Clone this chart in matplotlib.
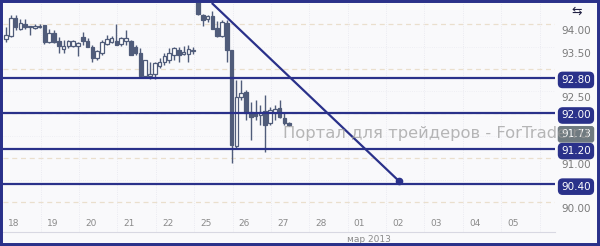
import matplotlib.pyplot as plt
import matplotlib.transforms as mtransforms
from matplotlib.patches import Rectangle
import numpy as np

# 3-hour candles, 8 per trading day (18.02 - 27.02.2013)
opens = [93.67, 93.74, 94.15, 93.90, 94.01, 93.95, 93.92, 93.93, 93.99, 93.61,
         93.81, 93.63, 93.45, 93.52, 93.52, 93.52, 93.72, 93.63, 93.49, 93.25,
         93.36, 93.56, 93.61, 93.63, 93.56, 93.63, 93.63, 93.49, 93.36, 92.84,
         92.84, 92.89, 93.07, 93.16, 93.20, 93.31, 93.43, 93.34, 93.34, 93.40,
         94.60, 94.21, 94.12, 94.19, 93.92, 93.74, 94.03, 93.43, 91.26, 92.37,
         92.48, 92.03, 92.01, 91.96, 92.05, 91.78, 92.01, 92.12, 91.89, 91.78]
highs = [93.94, 94.21, 94.21, 94.12, 94.12, 93.95, 94.01, 94.01, 93.99, 93.90,
         93.88, 93.72, 93.65, 93.65, 93.65, 93.61, 93.83, 93.70, 93.54, 93.43,
         93.65, 93.76, 93.74, 94.01, 93.72, 93.88, 93.65, 93.54, 93.47, 93.20,
         93.16, 93.16, 93.25, 93.36, 93.47, 93.49, 93.49, 93.52, 93.54, 93.49,
         94.65, 94.24, 94.21, 94.30, 94.08, 94.10, 94.10, 93.43, 92.75, 92.75,
         92.52, 92.25, 92.30, 92.19, 92.41, 92.14, 92.19, 92.30, 92.00, 91.80]
lows = [93.61, 93.72, 93.88, 93.88, 93.90, 93.76, 93.90, 93.92, 93.56, 93.58,
        93.58, 93.36, 93.36, 93.47, 93.49, 93.29, 93.54, 93.49, 93.16, 93.20,
        93.31, 93.54, 93.58, 93.54, 93.52, 93.54, 93.31, 93.31, 92.82, 92.80,
        92.77, 92.77, 93.02, 93.09, 93.13, 93.20, 93.16, 93.31, 93.16, 93.34,
        94.21, 93.97, 94.06, 93.90, 93.72, 93.72, 93.16, 90.88, 91.22, 92.30,
        91.85, 91.40, 91.85, 91.74, 91.13, 91.74, 91.85, 91.89, 91.74, 91.71]
closes = [93.76, 94.15, 93.94, 94.03, 93.94, 93.94, 93.97, 93.97, 93.61, 93.81,
          93.61, 93.52, 93.52, 93.63, 93.63, 93.58, 93.63, 93.49, 93.25, 93.40,
          93.61, 93.67, 93.70, 93.54, 93.70, 93.70, 93.31, 93.36, 92.84, 93.20,
          92.89, 93.13, 93.16, 93.29, 93.36, 93.47, 93.31, 93.38, 93.45, 93.40,
          94.24, 94.10, 94.19, 93.90, 93.74, 94.06, 93.43, 91.29, 92.37, 92.46,
          92.01, 91.92, 91.94, 92.03, 91.74, 92.07, 92.10, 91.92, 91.78, 91.73]

day_labels = ['18', '19', '20', '21', '22', '25', '26', '27', '28',
              '01', '02', '03', '04', '05']
month_label = 'мар 2013'

levels = [92.80, 92.00, 91.20, 90.40]
last_price = 91.73
trend_x = [5.36, 10.23]
trend_y = [94.48, 90.48]
ytick_vals = [94.00, 93.50, 92.50, 91.00, 90.00]

navy = '#2a318a'
candle_c = '#505c7a'
grey_txt = '#8a8a8a'

fig = plt.figure(figsize=(6, 2.46), dpi=100)
fig.patch.set_facecolor('#f9f9fb')
ax = fig.add_axes([3 / 600, 14 / 246, 552 / 600, 229 / 246])
ax.set_facecolor('#f9f9fb')
ax.set_xlim(-0.078, 14.30)
ax.set_ylim(89.33, 94.48)

# grid
for v in [90, 91, 92, 93, 94]:
    ax.axhline(v, color='#eadfcd', lw=0.9, ls=(0, (4, 3)), zorder=0)
for v in [90.5, 91.5, 92.5, 93.5]:
    ax.axhline(v, color='#ececf2', lw=0.6, ls=':', zorder=0)
for d in range(15):
    ax.axvline(d - 0.1, color='#e6e6ee', lw=0.6, ls=':', zorder=0)

# candles
x = np.arange(len(opens)) / 8
o = np.array(opens)
c = np.array(closes)
ax.vlines(x, lows, highs, color=candle_c, lw=1.0, zorder=2)
up = c >= o
bottom = np.minimum(o, c)
height = np.maximum(np.abs(c - o), 0.015)
ax.bar(x[up], height[up], bottom=bottom[up], width=0.095, color='white',
       edgecolor=candle_c, lw=0.9, zorder=3)
ax.bar(x[~up], height[~up], bottom=bottom[~up], width=0.095, color=candle_c,
       edgecolor=candle_c, lw=0.9, zorder=3)

# levels
for lv in levels:
    ax.axhline(lv, color=navy, lw=1.6, zorder=4)

ax.plot(trend_x, trend_y, color=navy, lw=1.6, zorder=4, solid_capstyle='butt')
ax.plot(trend_x[1], trend_y[1], 'o', color=navy, ms=4.5, zorder=5)

# right axis labels
ytrans = mtransforms.blended_transform_factory(ax.transAxes, ax.transData)
lab_trans = mtransforms.offset_copy(ytrans, fig=fig, y=-5, units='points')
for v in ytick_vals:
    ax.text(1.038, v, f'{v:.2f}', transform=lab_trans, ha='center', va='center',
            fontsize=7.5, color='#7a7a7a', clip_on=False)

box_trans = mtransforms.offset_copy(ytrans, fig=fig, y=-1.6, units='points')
for lv in levels:
    ax.text(1.038, lv, f'{lv:.2f}', transform=box_trans, ha='center', va='center',
            fontsize=7.5, color='white', clip_on=False, zorder=6,
            bbox=dict(boxstyle='round,pad=0.25,rounding_size=0.4', fc=navy, ec=navy))
last_trans = mtransforms.offset_copy(ytrans, fig=fig, y=-6.5, units='points')
ax.text(1.038, last_price, f'{last_price:.2f}', transform=last_trans, ha='center',
        va='center', fontsize=7.5, color='white', clip_on=False, zorder=6,
        bbox=dict(boxstyle='round,pad=0.25,rounding_size=0.2', fc='#6f7a80', ec='#6f7a80'))

# date labels
xtrans = mtransforms.blended_transform_factory(ax.transData, ax.transAxes)
for d, lab in enumerate(day_labels):
    ax.text(d + 0.21, 0.035, lab, transform=xtrans, ha='center', va='center',
            fontsize=6.5, color=grey_txt)
fig.text(369 / 600, 1 - 239 / 246, month_label, ha='center', va='center',
         fontsize=6.5, color=grey_txt)

# watermark (overlaps the price box, as in the original)
ax.text(0.507, 0.432, 'Портал для трейдеров - ForTrade.ru', transform=ax.transAxes,
        ha='left', va='center', fontsize=11.8, color='#999999', alpha=0.7,
        clip_on=False, zorder=7)

ax.text(1.03, 0.965, '⇆', transform=ax.transAxes, ha='left', va='center',
        fontsize=9, color='#222244', clip_on=False)

for s in ['top', 'left', 'right']:
    ax.spines[s].set_visible(False)
ax.spines['bottom'].set_color('#d8d8e2')
ax.set_xticks([])
ax.set_yticks([])

fig.patches.append(Rectangle((0, 0), 1, 1, transform=fig.transFigure, fill=False,
                             lw=4.3, ec=navy, zorder=10))

fig.savefig('out.png', dpi=100)
